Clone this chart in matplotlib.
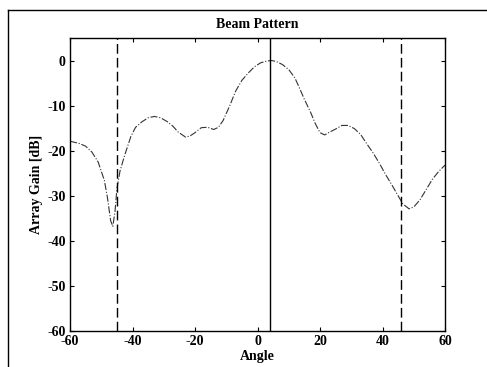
import matplotlib
matplotlib.use("Agg")
import matplotlib.pyplot as plt
from matplotlib.lines import Line2D

angle = [-60, -57, -55, -53, -51, -49, -48, -47, -46.3, -45.6, -45, -44, -42.5,
         -40.5, -39, -37, -35, -33, -31, -29, -27, -25.5, -23, -21.5, -20, -18,
         -16, -14, -12.5, -11, -9, -7, -5, -3, -1, 1, 3, 4.5, 6, 8, 10, 12, 13.5,
         15, 17, 18.5, 20, 21.5, 23, 25, 27, 29, 31, 33, 35, 37, 39, 41, 43, 45,
         46.5, 48.5, 50, 52, 54, 56, 58, 60]
gain_db = [-17.9, -18.4, -19.0, -20.3, -22.5, -26.6, -30.5, -35.5, -36.8, -33.5,
           -28.5, -24.5, -21.0, -16.8, -14.8, -13.6, -12.7, -12.4, -12.7, -13.5,
           -14.6, -15.8, -17.0, -16.7, -16.0, -14.9, -14.8, -15.3, -14.8, -13.3,
           -10.2, -6.8, -4.4, -2.8, -1.4, -0.5, -0.1, 0.0, -0.2, -0.9, -2.0, -3.9,
           -6.2, -8.6, -11.5, -14.0, -16.0, -16.5, -15.9, -15.2, -14.4, -14.4,
           -15.1, -16.4, -18.5, -20.5, -22.8, -25.3, -27.6, -30.0, -31.8, -32.9,
           -32.5, -30.9, -28.6, -26.3, -24.6, -23.2]
look_angle = 4
null_angles = [-45, 46]
xticks = [-60, -40, -20, 0, 20, 40, 60]
yticks = [-60, -50, -40, -30, -20, -10, 0]

plt.rcParams['font.family'] = ['Liberation Serif', 'DejaVu Serif']
plt.rcParams['font.weight'] = 'bold'
plt.rcParams['axes.unicode_minus'] = False

fig = plt.figure(figsize=(4.87, 3.67), dpi=100)
ax = fig.add_axes([70/487, 1-331/367, 375/487, 293/367])

ax.plot(angle, gain_db, color='#333333', lw=0.8, linestyle='-.')
ax.axvline(look_angle, color='black', lw=1.0)
for a in null_angles:
    l = ax.axvline(a, color='black', lw=1.0)
    l.set_dashes((7, 3))

ax.set_xlim(-60, 60)
ax.set_ylim(-60, 5)
ax.set_xticks(xticks)
ax.set_yticks(yticks)
ax.tick_params(direction='in', length=3, top=True, right=True, labelsize=10, width=0.8, pad=3)
for lab in ax.get_xticklabels() + ax.get_yticklabels():
    lab.set_fontweight('bold')
for s in ax.spines.values():
    s.set_linewidth(1.0)

ax.set_title('Beam Pattern', fontsize=10, fontweight='bold', pad=7)
ax.set_xlabel('Angle', fontsize=10, fontweight='bold', labelpad=1)
ax.set_ylabel('Array Gain [dB]', fontsize=10, fontweight='bold', labelpad=3)

fig.add_artist(Line2D([8/487, 1.0], [1-10/367, 1-10/367], color='black', lw=1.0,
                      transform=fig.transFigure))
fig.add_artist(Line2D([8/487, 8/487], [0.0, 1-10/367], color='black', lw=1.0,
                      transform=fig.transFigure))

fig.savefig('out.png', dpi=100)
